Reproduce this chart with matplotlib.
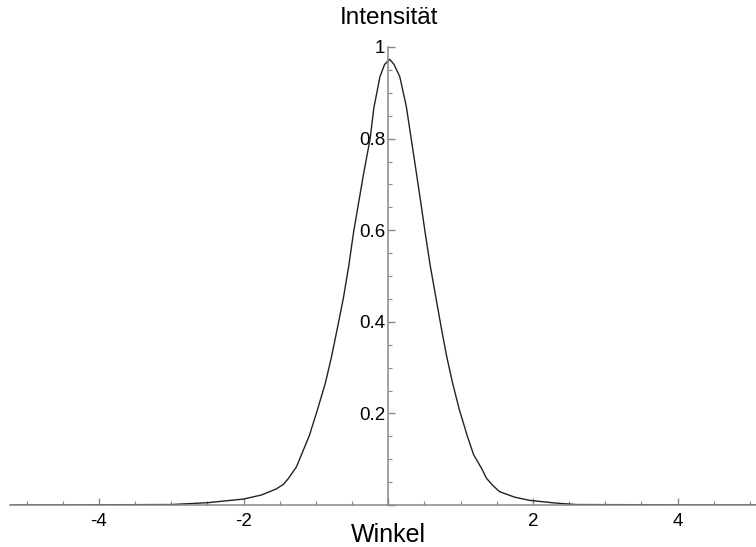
import matplotlib
matplotlib.use('Agg')
import matplotlib.pyplot as plt
from matplotlib.ticker import MultipleLocator, FuncFormatter

# Werte
winkel = [-5.23, -3.0, -2.5, -2.0, -1.75, -1.55, -1.45, -1.38, -1.27, -1.09,
          -0.975, -0.87, -0.785, -0.71, -0.62, -0.545, -0.48, -0.415, -0.34,
          -0.25, -0.2, -0.115, -0.05, 0.02, 0.08, 0.16, 0.25, 0.32, 0.39,
          0.455, 0.51, 0.58, 0.66, 0.74, 0.81, 0.89, 0.98, 1.09, 1.18, 1.29,
          1.36, 1.45, 1.54, 1.75, 1.96, 2.33, 2.6, 5.1]
intensitaet = [0.0, 0.001, 0.005, 0.013, 0.022, 0.035, 0.045, 0.058, 0.083, 0.152,
               0.21, 0.266, 0.323, 0.381, 0.452, 0.523, 0.595, 0.655, 0.724,
               0.8, 0.866, 0.935, 0.962, 0.973, 0.962, 0.935, 0.87, 0.797, 0.724,
               0.655, 0.595, 0.523, 0.452, 0.381, 0.323, 0.266, 0.21, 0.152, 0.11, 0.08,
               0.058, 0.042, 0.029, 0.017, 0.01, 0.004, 0.001, 0.0]

plt.rcParams['font.family'] = ['Liberation Sans', 'DejaVu Sans']
plt.rcParams['axes.unicode_minus'] = False

fig = plt.figure(figsize=(7.56, 5.47), dpi=100)
ax = fig.add_axes([10 / 756, 1 - 505 / 547, 746 / 756, 458 / 547])
ax.plot(winkel, intensitaet, color='#222222', lw=1.0)

ax.set_xlim(-5.23, 5.085)
ax.set_ylim(0, 1.0)

axis_col = '#888888'
for side in ['top', 'right']:
    ax.spines[side].set_visible(False)
ax.spines['left'].set_position(('data', 0))
ax.spines['bottom'].set_position(('data', 0))
for side in ['left', 'bottom']:
    ax.spines[side].set_color(axis_col)
    ax.spines[side].set_linewidth(1.1)

ax.xaxis.set_major_locator(MultipleLocator(2))
ax.xaxis.set_minor_locator(MultipleLocator(0.5))
ax.yaxis.set_major_locator(MultipleLocator(0.2))
ax.yaxis.set_minor_locator(MultipleLocator(0.05))


def fmt(v, pos):
    if abs(v) < 1e-9:
        return ''
    return ('%g' % round(v, 2))


ax.xaxis.set_major_formatter(FuncFormatter(fmt))
ax.yaxis.set_major_formatter(FuncFormatter(fmt))

ax.tick_params(axis='both', which='major', direction='in', length=5, width=1,
               color=axis_col, labelsize=13.5)
ax.tick_params(axis='both', which='minor', direction='in', length=3, width=0.8,
               color=axis_col)
ax.tick_params(axis='x', which='major', pad=6)
ax.tick_params(axis='y', which='major', pad=2)

fig.text(389 / 756, 1 - 18 / 547, 'Intensität', ha='center', va='center',
         fontsize=17.5)
fig.text(388 / 756, 1 - 535 / 547, 'Winkel', ha='center', va='center',
         fontsize=18)

fig.savefig('out.png', dpi=100)
